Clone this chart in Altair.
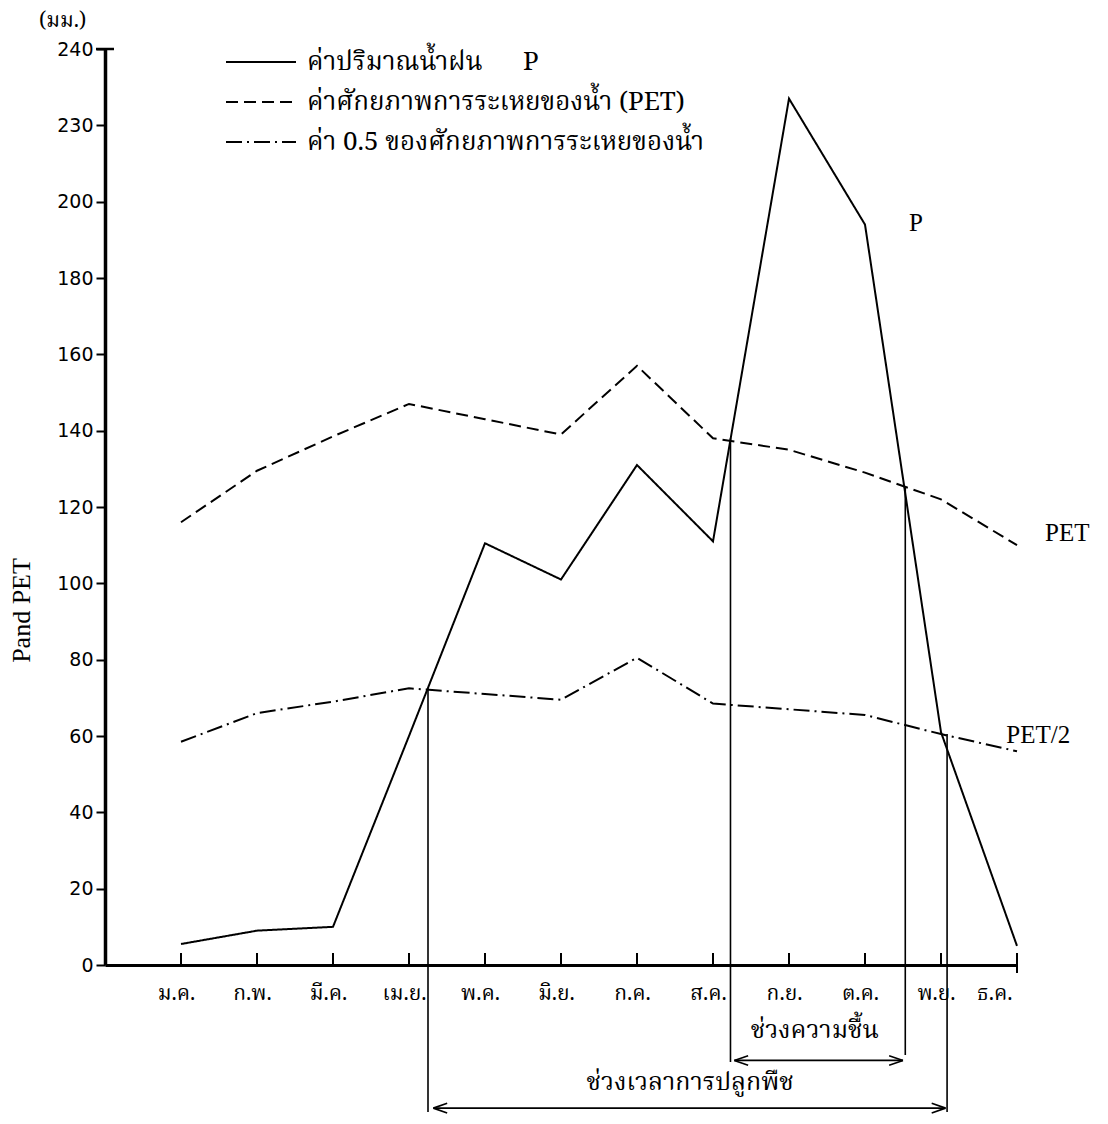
import altair as alt
import pandas as pd

# ---------------- data ----------------
months = ["ม.ค.", "ก.พ.", "มี.ค.", "เม.ย.", "พ.ค.", "มิ.ย.", "ก.ค.", "ส.ค.", "ก.ย.", "ต.ค.", "พ.ย.", "ธ.ค."]
month_idx = list(range(1, 13))
p_values = [5.5, 9, 10, 60, 110.5, 101, 131, 111, 227, 194, 61, 5]
pet_values = [116, 129.5, 138.5, 147, 143, 139, 157, 138, 135, 129, 122, 110]
pet_half_values = [58.5, 66, 69, 72.5, 71, 69.5, 80.5, 68.5, 67, 65.5, 60.5, 56]

series_names = ["ค่าปริมาณน้ำฝน\u00a0\u00a0\u00a0\u00a0\u00a0\u00a0P",
                "ค่าศักยภาพการระเหยของน้ำ (PET)",
                "ค่า 0.5 ของศักยภาพการระเหยของน้ำ"]
series_dash = [[1, 0], [12, 6], [16, 5, 2, 5]]

ytick_values = [0, 20, 40, 60, 80, 100, 120, 140, 160, 180, 200, 220, 240]
ytick_labels = ["0", "20", "40", "60", "80", "100", "120", "140", "160", "180", "200", "230", "240"]

# crossings of P with PET / PET/2 and the vertical guide lines
cross_month = [4.25, 8.23, 10.53, 11.08]
cross_value = [72.5, 138, 125.5, 60.5]
cross_bottom = [-38.5, -25.4, -23.6, -38.5]

# period arrows
arrow_labels = ["ช่วงความชื้น", "ช่วงเวลาการปลูกพืช"]
arrow_start = [8.28, 4.32]
arrow_end = [10.5, 11.06]
arrow_level = [-25.0, -37.5]
arrow_label_month = [9.34, 7.7]
arrow_label_level = [-17.0, -30.6]

# series end labels
end_labels = ["P", "PET", "PET/2"]
end_label_month = [10.58, 12.37, 11.86]
end_label_value = [194.5, 113.2, 60.3]

THAI = "Noto Serif Thai, Noto Sans Thai, Loma, Garuda, Norasi, Kinnari, Sarabun, sans-serif"
SERIF = "Liberation Serif"
SANS = "DejaVu Sans"

# ---------------- tables ----------------
rows = []
for name, vals in zip(series_names, [p_values, pet_values, pet_half_values]):
    for m, v in zip(month_idx, vals):
        rows.append({"series": name, "m": m, "v": v})
lines_df = pd.DataFrame(rows)
cross_df = pd.DataFrame({"m": cross_month, "v": cross_value, "v2": cross_bottom})
arrow_df = pd.DataFrame({"m": arrow_start, "m2": arrow_end, "v": arrow_level})
arrow_lab_df = pd.DataFrame({"m": arrow_label_month, "v": arrow_label_level, "t": arrow_labels})
end_df = pd.DataFrame({"m": end_label_month, "v": end_label_value, "t": end_labels})
tick_df = pd.DataFrame({"m": month_idx, "v": [0] * 12})

xscale = alt.Scale(domain=[0, 12], nice=False, zero=False)
yscale = alt.Scale(domain=[0, 240], nice=False)

month_expr = "[" + ",".join("'" + s + "'" for s in months) + "][datum.value - 1]"
ylab_expr = "[" + ",".join("'" + s + "'" for s in ytick_labels) + "][round(datum.value / 20)]"

x_axis = alt.Axis(values=month_idx, labelExpr=month_expr, title=None, grid=False,
                  ticks=False, domainWidth=3, domainColor="black",
                  labelFont=THAI, labelFontSize=21, labelColor="black",
                  labelPadding=17, labelOffset=-5)
y_axis = alt.Axis(values=ytick_values, labelExpr=ylab_expr, grid=False,
                  domainWidth=3.5, domainColor="black", tickSize=9, tickWidth=2,
                  tickColor="black", labelFont=SANS, labelFontSize=19,
                  labelColor="black", labelPadding=3,
                  title="Pand PET", titleFont=SERIF, titleFontSize=26,
                  titleFontWeight="normal", titleColor="black",
                  titleAngle=270, titleBaseline="middle", titleX=-84, titleY=561)


def X(field):
    return alt.X(field, scale=xscale, axis=x_axis)


def Y(field):
    return alt.Y(field, scale=yscale, axis=y_axis)


lines = alt.Chart(lines_df).mark_line(color="black", strokeWidth=2).encode(
    x=X("m:Q"),
    y=Y("v:Q"),
    strokeDash=alt.StrokeDash(
        "series:N",
        scale=alt.Scale(domain=series_names, range=series_dash),
        legend=alt.Legend(orient="none", legendX=120, legendY=0, title=None,
                          symbolType="stroke", symbolSize=4900,
                          symbolStrokeWidth=2, symbolStrokeColor="black",
                          labelFont=THAI, labelFontSize=26, labelColor="black",
                          labelOffset=10, labelLimit=0, clipHeight=26,
                          rowPadding=14, padding=0)),
    detail="series:N",
)

verticals = alt.Chart(cross_df).mark_rule(color="black", strokeWidth=1.6).encode(
    x=X("m:Q"), y=Y("v:Q"), y2="v2:Q",
)

arrows = alt.Chart(arrow_df).mark_rule(color="black", strokeWidth=1.6).encode(
    x=X("m:Q"), x2="m2:Q", y=Y("v:Q"),
)

head_left = alt.Chart(arrow_df).mark_point(
    shape="M0,0L1.6,-0.55M0,0L1.6,0.55", size=300, filled=False,
    color="black", strokeWidth=1.6, opacity=1).encode(x=X("m:Q"), y=Y("v:Q"))
head_right = alt.Chart(arrow_df).mark_point(
    shape="M0,0L-1.6,-0.55M0,0L-1.6,0.55", size=300, filled=False,
    color="black", strokeWidth=1.6, opacity=1).encode(x=X("m2:Q"), y=Y("v:Q"))

arrow_text = alt.Chart(arrow_lab_df).mark_text(
    font=THAI, fontSize=25, color="black", align="center", baseline="middle").encode(
    x=X("m:Q"), y=Y("v:Q"), text="t:N",
)

end_text = alt.Chart(end_df).mark_text(
    font=SERIF, fontSize=25, color="black", align="left", baseline="middle").encode(
    x=X("m:Q"), y=Y("v:Q"), text="t:N",
)

xticks = alt.Chart(tick_df).mark_rule(color="black", strokeWidth=2, y2Offset=-12).encode(
    x=X("m:Q"), y=Y("v:Q"), y2="v:Q",
)

end_cap = alt.Chart(tick_df.tail(1)).mark_rule(color="black", strokeWidth=2,
                                               yOffset=8, y2Offset=-12).encode(
    x=X("m:Q"), y=Y("v:Q"), y2="v:Q",
)

top_cap = alt.Chart(pd.DataFrame({"m": [0], "v": [240]})).mark_rule(
    color="black", strokeWidth=2.5, xOffset=-9, x2Offset=9).encode(
    x=X("m:Q"), x2="m:Q", y=Y("v:Q"),
)

chart = alt.layer(
    lines, verticals, arrows, head_left, head_right, arrow_text, end_text,
    xticks, end_cap, top_cap
).properties(
    width=912, height=916,
    autosize=alt.AutoSizeParams(type="none"),
    padding={"left": 97, "top": 41, "right": 83, "bottom": 151},
    title=alt.TitleParams("(มม.)", anchor="start", frame="group", dx=-66,
                          offset=9, font=THAI, fontSize=21, fontWeight="normal",
                          color="black"),
    background="white",
).configure_view(stroke=None)

chart.save("out.html", embed_options={"renderer": "svg", "actions": False})
